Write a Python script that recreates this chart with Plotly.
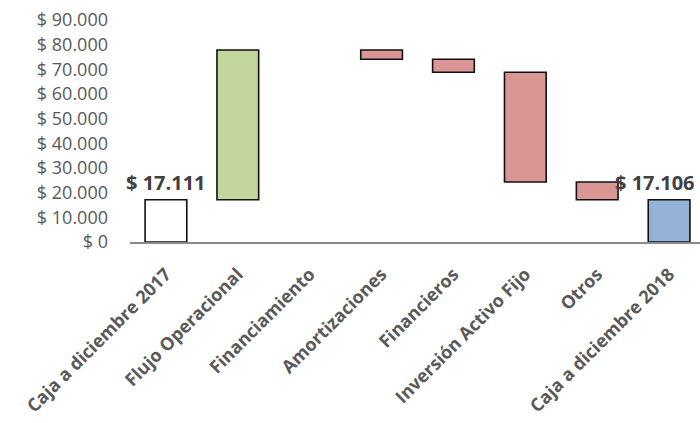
import plotly.graph_objects as go

categories = ["Caja a diciembre 2017", "Flujo Operacional", "Financiamiento",
              "Amortizaciones", "Financieros", "Inversión Activo Fijo", "Otros",
              "Caja a diciembre 2018"]
changes = [17111, 60700, 0, -3700, -5300, -44500, -7205, 17106]
kinds = ["total", "delta", "delta", "delta", "delta", "delta", "delta", "total"]
y_tick_vals = [0, 10000, 20000, 30000, 40000, 50000, 60000, 70000, 80000, 90000]
y_tick_text = ["$ 0", "$ 10.000", "$ 20.000", "$ 30.000", "$ 40.000", "$ 50.000",
               "$ 60.000", "$ 70.000", "$ 80.000", "$ 90.000"]
label_text = ["$ 17.111", "$ 17.106"]

bases, heights, colors, lw = [], [], [], []
running = 0
for i, (v, k) in enumerate(zip(changes, kinds)):
    if k == "total":
        bases.append(0)
        heights.append(v)
        running = v
        colors.append("#ffffff" if i == 0 else "#95b3d7")
    else:
        if v >= 0:
            bases.append(running)
            heights.append(v)
            colors.append("#c3d69b")
        else:
            bases.append(running + v)
            heights.append(-v)
            colors.append("#d99694")
        running += v
    lw.append(1.6 if heights[-1] != 0 else 0)

fig = go.Figure()
fig.add_trace(go.Bar(
    x=categories, y=heights, base=bases, width=0.58,
    marker=dict(color=colors, line=dict(color="#111111", width=lw)),
    hoverinfo="skip",
))

font_main = "Open Sans"
fig.add_annotation(x=categories[0], y=changes[0], text="<b>" + label_text[0] + "</b>",
                   showarrow=False, yanchor="bottom", yshift=2,
                   font=dict(family=font_main, size=20, color="#404040"))
fig.add_annotation(x=categories[-1], y=changes[-1], text="<b>" + label_text[1] + "</b>",
                   showarrow=False, yanchor="bottom", yshift=2, xshift=-14,
                   font=dict(family=font_main, size=20, color="#404040"))

fig.update_layout(
    width=700, height=423,
    margin=dict(l=130, r=0, t=20, b=181),
    paper_bgcolor="white", plot_bgcolor="white",
    showlegend=False,
    bargap=0.42,
)
fig.update_xaxes(
    range=[-0.5, 7.43], tickangle=-45, showgrid=False, automargin=False,
    showline=True, linecolor="#898989", linewidth=1.5,
    ticks="", ticklabelstandoff=13,
    tickfont=dict(family=font_main, size=18, color="#595959", weight="bold"),
)
fig.update_yaxes(
    range=[0, 90000], tickvals=y_tick_vals, ticktext=y_tick_text, automargin=False,
    showgrid=False, showline=False, zeroline=False, ticks="",
    ticklabelstandoff=21,
    tickfont=dict(family=font_main, size=18, color="#595959"),
)

fig.write_html("out.html")
